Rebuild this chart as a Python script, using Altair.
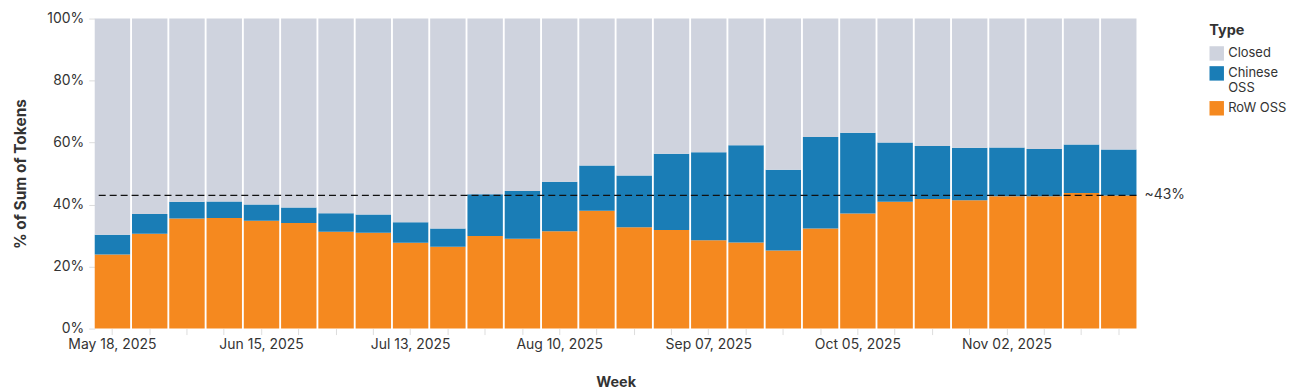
import altair as alt
import pandas as pd

weeks = pd.date_range("2025-05-18", periods=28, freq="7D")
week_labels = [d.strftime("%b %d, %Y") for d in weeks]

row_oss = [23.9, 30.6, 35.5, 35.7, 34.8, 34.1, 31.2, 30.9, 27.7, 26.4,
           29.9, 29.0, 31.4, 38.0, 32.7, 31.8, 28.5, 27.8, 25.2, 32.3,
           37.1, 40.9, 41.8, 41.4, 42.7, 42.7, 43.7, 42.9]
oss_total = [30.3, 37.0, 40.9, 41.0, 40.0, 39.1, 37.2, 36.8, 34.3, 32.3,
             43.3, 44.4, 47.4, 52.6, 49.4, 56.4, 56.9, 59.1, 51.2, 61.8,
             63.2, 60.0, 58.9, 58.3, 58.4, 57.9, 59.4, 57.8]
chinese_oss = [round(t - r, 1) for t, r in zip(oss_total, row_oss)]
closed = [round(100 - t, 1) for t in oss_total]

types = ["Closed", "Chinese OSS", "RoW OSS"]
colors = ["#cfd3de", "#1a7db6", "#f5891f"]
stack_order = {"RoW OSS": 0, "Chinese OSS": 1, "Closed": 2}
reference_share = 0.43
reference_label = "~43%"

rows = []
for i, w in enumerate(week_labels):
    for t, vals in (("RoW OSS", row_oss), ("Chinese OSS", chinese_oss), ("Closed", closed)):
        rows.append({"Week": w, "Type": t, "Share": vals[i] / 100.0, "ord": stack_order[t]})
df = pd.DataFrame(rows)

shown = week_labels[::4]
label_expr = "indexof([" + ",".join("'%s'" % s for s in shown) + "], datum.value) >= 0 ? datum.value : ''"

FONT = "Inter"
W, H = 1045, 311

bars = alt.Chart(df).mark_bar().encode(
    x=alt.X("Week:O", sort=week_labels, title="Week",
            scale=alt.Scale(paddingInner=0.05, paddingOuter=0.0),
            axis=alt.Axis(labelAngle=0, labelExpr=label_expr, tickColor="#dddddd",
                          tickSize=6, domain=False, labelPadding=3, titlePadding=24,
                          titleFontSize=14.5)),
    y=alt.Y("Share:Q", stack="zero", title="% of Sum of Tokens",
            scale=alt.Scale(domain=[0, 1]),
            axis=alt.Axis(format=".0%", values=[0, 0.2, 0.4, 0.6, 0.8, 1.0], grid=False,
                          domain=False, tickColor="#dddddd", tickSize=6, labelPadding=5,
                          titlePadding=18, titleFontSize=15.5)),
    color=alt.Color("Type:N", scale=alt.Scale(domain=types, range=colors),
                    legend=alt.Legend(title="Type", symbolType="square", symbolSize=210,
                                      symbolStrokeWidth=0, orient="none",
                                      legendX=W + 73, legendY=5,
                                      labelExpr="datum.label == 'Chinese OSS' ? ['Chinese', 'OSS'] : datum.label")),
    order=alt.Order("ord:Q", sort="ascending"),
)

ref_df = pd.DataFrame({"y": [reference_share], "label": [reference_label]})
rule = alt.Chart(ref_df).mark_rule(color="#111111", strokeDash=[7, 4], strokeWidth=1.3).encode(
    y=alt.Y("y:Q")
)
text = alt.Chart(ref_df).mark_text(align="left", baseline="middle", fontSize=14,
                                   font=FONT, color="#333333").encode(
    x=alt.value(W + 8), y=alt.Y("y:Q"), text="label:N"
)

chart = alt.layer(bars, rule, text).properties(
    width=W, height=H, padding={"left": 5, "top": 3, "right": 0, "bottom": 2}
).configure_view(
    stroke=None
).configure_axis(
    labelFont=FONT, titleFont=FONT, labelFontSize=14, titleFontSize=14.5,
    labelColor="#333333", titleColor="#333333", titleFontWeight="bold"
).configure_legend(
    labelFont=FONT, titleFont=FONT, labelFontSize=13, titleFontSize=14.5,
    labelColor="#333333", titleColor="#333333", titleFontWeight="bold",
    rowPadding=5, titlePadding=8
)

chart.save("out.html", embed_options={"renderer": "svg", "actions": False})
